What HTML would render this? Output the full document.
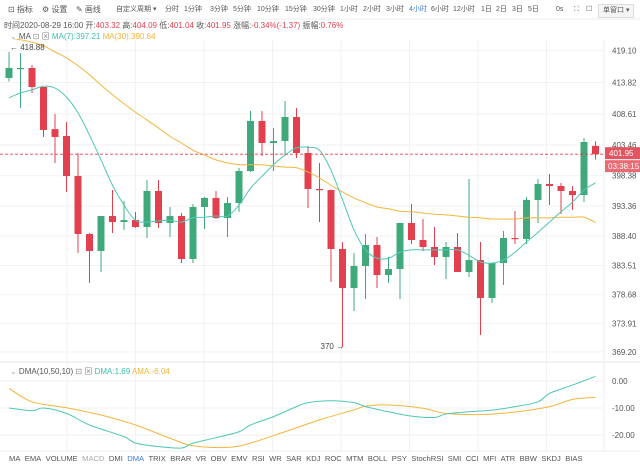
<!DOCTYPE html>
<html><head><meta charset="utf-8">
<style>
html,body{margin:0;padding:0;background:#fff;}
body{width:640px;height:465px;overflow:hidden;position:relative;font-family:"Liberation Sans","Noto Sans CJK SC",sans-serif;color:#555;}
.t{position:absolute;font-size:8px;white-space:nowrap;line-height:10px;}
.h{font-size:7px;}
svg{position:absolute;left:0;top:0;}
</style></head>
<body>
<svg id="chart" width="640" height="465"></svg>

<div class="t" style="left:8px;top:5px">⊡ 指标</div>
<div class="t" style="left:42px;top:5px">⚙ 设置</div>
<div class="t" style="left:76px;top:5px">✎ 画线</div>
<div class="t h" style="left:116px;top:5px">自定义周期 ▾</div>
<div class="t h" style="left:165px;top:5px">分时</div>
<div class="t h" style="left:184px;top:5px">1分钟</div>
<div class="t h" style="left:210px;top:5px">3分钟</div>
<div class="t h" style="left:233px;top:5px">5分钟</div>
<div class="t h" style="left:257px;top:5px">10分钟</div>
<div class="t h" style="left:285px;top:5px">15分钟</div>
<div class="t h" style="left:313px;top:5px">30分钟</div>
<div class="t h" style="left:340px;top:5px">1小时</div>
<div class="t h" style="left:363px;top:5px">2小时</div>
<div class="t h" style="left:386px;top:5px">3小时</div>
<div class="t h" style="left:409px;top:5px;color:#3b7be0">4小时</div>
<div class="t h" style="left:431px;top:5px">6小时</div>
<div class="t h" style="left:453px;top:5px">12小时</div>
<div class="t h" style="left:481px;top:5px">1日</div>
<div class="t h" style="left:496px;top:5px">2日</div>
<div class="t h" style="left:512px;top:5px">3日</div>
<div class="t h" style="left:528px;top:5px">5日</div>
<div class="t h" style="left:556px;top:5px">0s</div>
<div class="t h" style="left:574px;top:5px">⛶</div>
<div class="t h" style="left:586px;top:5px">☐</div>
<div class="t h" style="left:598px;top:4px;border:1px solid #ddd;background:#f5f5f5;padding:1px 4px">单窗口 ▾</div>

<div class="t" style="left:4px;top:21px">时间2020-08-29 16:00 开:<span style="color:#e2404f">403.32</span> 高:<span style="color:#e2404f">404.09</span> 低:<span style="color:#e2404f">401.04</span> 收:<span style="color:#e2404f">401.95</span> 涨幅:<span style="color:#e2404f">-0.34%(-1.37)</span> 振幅:<span style="color:#e2404f">0.76%</span></div>
<div class="t" style="left:10px;top:32px"><span style="color:#aaa">⌄</span> MA <span style="color:#888">⊡ ⊠</span> <span style="color:#3fc1b0">MA(7):397.21</span> <span style="color:#f0b43a">MA(30):390.64</span></div>
<div class="t" style="left:10px;top:367px"><span style="color:#aaa">⌄</span> DMA(10,50,10) <span style="color:#888">⊡ ⊠</span> <span style="color:#3fc1b0">DMA:1.69</span> <span style="color:#f0b43a">AMA:-6.04</span></div>

<script>
const opens =[414.57,416.15,416.23,413.08,406.1,404.96,398.33,388.72,385.91,391.70,390.71,391.04,389.88,395.85,390.55,391.70,384.58,393.20,394.69,391.37,393.86,399.16,407.45,403.80,404.13,408.11,402.14,396.18,396.01,386.24,379.77,383.42,386.90,381.93,382.92,390.55,387.73,386.57,384.91,386.57,382.43,384.41,378.12,383.92,388.06,387.89,394.36,397.01,396.68,395.85,395.18,403.32];
const closes=[416.23,416.23,413.08,405.96,404.8,398.33,388.72,385.91,391.70,390.71,391.04,389.88,395.85,390.55,391.70,384.58,393.20,394.69,391.37,393.86,399.16,407.45,403.80,404.13,408.11,402.14,396.18,396.10,386.24,379.77,383.42,386.90,381.93,382.92,390.55,387.73,386.57,384.91,386.57,382.43,384.41,378.12,383.92,388.06,387.89,394.36,397.01,396.68,395.85,395.18,403.97,401.95];
const highs =[418.88,418.7,416.73,413.08,408.61,407.28,402.14,388.89,391.70,396.01,394.19,392.37,397.67,397.67,393.20,392.20,393.69,394.85,395.85,394.85,399.66,409.10,409.10,406.29,410.76,409.60,403.30,400.49,396.1,387.40,385.58,388.72,388.23,384.91,390.6,393.69,391.21,389.88,387.40,388.89,397.84,387.40,383.95,389.22,392.53,394.85,397.84,398.66,397.17,396.68,404.63,404.09];
const lows  =[414.0,409.6,412.09,404.80,400.49,395.68,385.58,380.60,382.43,388.89,389.39,389.72,388.06,389.72,388.23,383.92,383.92,389.55,391.2,388.23,392.37,399.0,401.65,399.16,401.81,401.32,393.03,390.71,380.77,370.00,375.96,377.95,379.77,380.60,377.95,387.07,385.91,383.58,381.27,382.43,381.60,371.99,377.29,380.27,387.07,387.07,390.55,393.53,392.04,392.70,394.03,401.04];
const ma7 =[411.3,412.1,412.6,413.2,412.9,411.4,408.8,405.1,401.0,396.8,393.5,391.0,390.7,390.9,391.0,390.7,391.4,391.5,391.7,391.7,393.5,396.3,398.3,400.2,401.8,403.0,403.1,402.6,399.3,394.4,389.4,386.1,384.7,384.7,385.7,386.1,386.1,386.1,386.1,386.1,385.2,384.1,383.9,384.4,385.7,387.4,389.0,390.7,392.4,394.0,396.0,397.21];
const ma30=[421.2,420.9,420.5,419.9,418.9,417.9,416.6,415.1,413.4,411.8,410.3,408.9,407.6,406.3,404.9,403.8,402.6,401.8,401.0,400.5,400.2,400.2,400.2,400.0,399.8,399.7,399.0,398.0,396.8,395.7,394.7,393.9,393.2,392.9,392.5,392.4,392.2,392.0,391.9,391.7,391.5,391.4,391.2,391.2,391.2,391.4,391.4,391.4,391.5,391.5,391.5,390.64];
const priceTicks=[419.10,413.82,408.61,403.46,398.38,393.36,388.40,383.51,378.68,373.91,369.20];
const dmaIdx=[0,2,3,5,7,10,11,13,15,16,18,20,21,23,25,26,28,30,31,33,35,37,38,40,42,44,46,47,49,51];
const dmaVal=[-10,-11,-10,-12,-16.3,-20.6,-23,-24.3,-24.8,-23,-21,-18.8,-16.3,-13.2,-9.5,-8,-7.3,-8,-9.5,-11.4,-13,-13.5,-12.2,-11.4,-10.8,-9.5,-7.7,-4.6,-1.5,1.69];
const amaIdx=[0,2,5,8,11,14,16,19,21,24,27,30,31,33,36,38,41,44,47,49,51];
const amaVal=[-2.7,-7.7,-9.9,-12.6,-16.3,-21.2,-24,-24.6,-23,-18.8,-14.4,-10.7,-9.3,-8.9,-10.1,-12,-12.4,-11.5,-9.5,-6.8,-6.04];
const dmaTicks=[0,-10,-20];
const lastPrice=401.95;

const NS="http://www.w3.org/2000/svg";
const svg=document.getElementById('chart');
const xAt=i=>9+11.5*i;
const yP=v=>52+(418.88-v)*6.035;
const yD=v=>381-v*2.7;
const GREEN="#3fa97c",RED="#e2404f";
function mk(tag,attrs,parent){const e=document.createElementNS(NS,tag);for(const k in attrs)e.setAttribute(k,attrs[k]);(parent||svg).appendChild(e);return e;}

const grid=mk('g',{});


for(let gx=67;gx<600;gx+=68.5){mk('line',{x1:gx,x2:gx,y1:40,y2:452,stroke:'#f2f2f2'},grid);}
priceTicks.forEach(t=>{mk('line',{x1:0,x2:604,y1:yP(t),y2:yP(t),stroke:'#f2f2f2'},grid);});
dmaTicks.forEach(t=>{mk('line',{x1:0,x2:604,y1:yD(t),y2:yD(t),stroke:'#f2f2f2'},grid);});
mk('line',{x1:0,x2:640,y1:362,y2:362,stroke:'#e6e6e6'},grid);
mk('line',{x1:604,x2:604,y1:40,y2:452,stroke:'#eee'},grid);
mk('line',{x1:0,x2:640,y1:19,y2:19,stroke:'#eee'},grid);

priceTicks.forEach(t=>{
  const tx=mk('text',{x:612,y:yP(t)+3,'font-size':8,fill:'#555','font-family':'Liberation Sans, sans-serif'});
  tx.textContent=t.toFixed(2);
  
  
});
dmaTicks.forEach(t=>{
  const tx=mk('text',{x:612,y:yD(t)+3,'font-size':8,fill:'#555','font-family':'Liberation Sans, sans-serif'});
  tx.textContent=t.toFixed(2);
  
  
});

const defs=mk('defs',{});
const cp=mk('clipPath',{id:'pc'},defs);mk('rect',{x:0,y:39,width:604,height:322},cp);
const cpd=mk('clipPath',{id:'dc'},defs);mk('rect',{x:0,y:363,width:604,height:88},cpd);

const cg=mk('g',{'clip-path':'url(#pc)'});


opens.forEach((o,i)=>{
  const c=closes[i],col=c>=o?GREEN:RED,x=xAt(i);
  const g=mk('g',{},cg);
  
  
  mk('line',{x1:x,x2:x,y1:yP(highs[i]),y2:yP(lows[i]),stroke:col,'stroke-width':1},g);
  const top=Math.min(yP(o),yP(c)),h=Math.max(1.2,Math.abs(yP(o)-yP(c)));
  mk('rect',{x:x-3.5,y:top,width:7,height:h,fill:col},g);
});

function smooth(pts){let d=`M${pts[0][0]},${pts[0][1]}`;for(let i=0;i<pts.length-1;i++){const p0=pts[i-1]||pts[i],p1=pts[i],p2=pts[i+1],p3=pts[i+2]||p2;d+=` C${p1[0]+(p2[0]-p0[0])/6},${p1[1]+(p2[1]-p0[1])/6} ${p2[0]-(p3[0]-p1[0])/6},${p2[1]-(p3[1]-p1[1])/6} ${p2[0]},${p2[1]}`;}return d;}
const l1=mk('path',{d:smooth(ma30.map((v,i)=>[xAt(i),yP(v)])),fill:'none',stroke:'#f3b63d','stroke-width':1,'clip-path':'url(#pc)'});


const l2=mk('path',{d:smooth(ma7.map((v,i)=>[xAt(i),yP(v)])),fill:'none',stroke:'#4fc7b5','stroke-width':1,'clip-path':'url(#pc)'});



const lp=mk('line',{x1:0,x2:604,y1:yP(lastPrice),y2:yP(lastPrice),stroke:'#e2404f','stroke-dasharray':'3,2','stroke-width':0.8});


const lb=mk('rect',{x:605,y:yP(lastPrice)-7,width:35,height:12,fill:'#e25560'});


const lt=mk('text',{x:609,y:yP(lastPrice)+2,'font-size':8,fill:'#fff','font-family':'Liberation Sans, sans-serif'});lt.textContent=lastPrice.toFixed(2);


const cb=mk('rect',{x:605,y:yP(lastPrice)+6,width:35,height:12,fill:'#e86a73'});


const ct=mk('text',{x:608,y:yP(lastPrice)+15,'font-size':8,fill:'#fff','font-family':'Liberation Sans, sans-serif'});ct.textContent='03:38:15';



const hi=highs.indexOf(Math.max(...highs)),lo=lows.indexOf(Math.min(...lows));
const hm=mk('text',{x:xAt(hi)+1,y:yP(highs[hi])-2,'font-size':8,fill:'#444','font-family':'Liberation Sans, sans-serif'});hm.textContent='← '+highs[hi].toFixed(2);


const lm=mk('text',{x:xAt(lo)-22,y:yP(lows[lo])+2,'font-size':8,fill:'#444','font-family':'Liberation Sans, sans-serif'});lm.textContent='370 →';



const d1=mk('path',{d:smooth(amaIdx.map((k,i)=>[xAt(k),yD(amaVal[i])])),fill:'none',stroke:'#f3b63d','stroke-width':1,'clip-path':'url(#dc)'});


const d2=mk('path',{d:smooth(dmaIdx.map((k,i)=>[xAt(k),yD(dmaVal[i])])),fill:'none',stroke:'#4fc7b5','stroke-width':1,'clip-path':'url(#dc)'});


mk('line',{x1:0,x2:640,y1:451,y2:451,stroke:'#eee'});

const tabs=["MA","EMA","VOLUME","MACD","DMI","DMA","TRIX","BRAR","VR","OBV","EMV","RSI","WR","SAR","KDJ","ROC","MTM","BOLL","PSY","StochRSI","SMI","CCI","MFI","ATR","BBW","SKDJ","BIAS"];
let tx=9;
tabs.forEach(n=>{
  const t=mk('text',{x:tx,y:461,'font-size':7.6,fill:n==="DMA"?'#3b7be0':(n==="MACD"?'#aaa':'#555'),'font-family':'Liberation Sans, sans-serif'});
  t.textContent=n;
  
  
  tx+=t.getComputedTextLength()+4.4;
});
</script>
</body></html>
